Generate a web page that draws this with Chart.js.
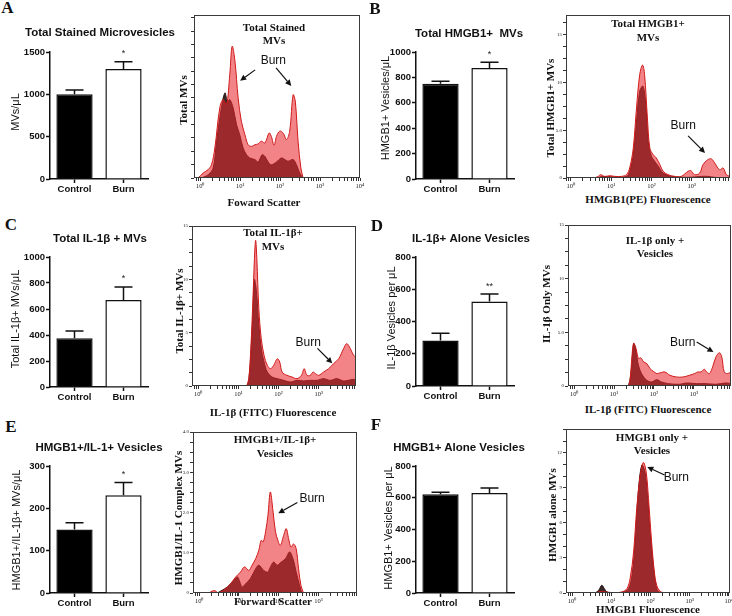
<!DOCTYPE html>
<html>
<head>
<meta charset="utf-8">
<script src="https://cdn.jsdelivr.net/npm/chart.js@4.4.1/dist/chart.umd.min.js"></script>
<style>
  html, body { margin: 0; padding: 0; overflow: hidden; background: #fff; }
  body { position: relative; width: 732px; height: 616px; }
  canvas { position: absolute; }
  .t { position: absolute; white-space: nowrap; transform: translate(-50%, -50%); color: #111; line-height: 1; text-align: center; }
  .rot { transform: translate(-50%, -50%) rotate(-90deg); }
  .letter { font: bold 17px "Liberation Serif", "Times New Roman", serif; }
  .btitle { font: bold 11.5px "Liberation Sans", Arial, sans-serif; }
  .bylab { font: 11px "Liberation Sans", Arial, sans-serif; }
  .serif { font: bold 11px "Liberation Serif", "Times New Roman", serif; }
  .serif2 { font: bold 11px/13.5px "Liberation Serif", "Times New Roman", serif; }
</style>
</head>
<body>
<script>
const SANS = '"Liberation Sans", Arial, sans-serif';
const SERIF = '"Liberation Serif", "Times New Roman", serif';

const groups = ['Control', 'Burn'];

// bar values (mean, SEM, significance mark)
const meanA = [1000, 1300], semA = [52, 85], sigA = ['', '*'];
const meanB = [750, 875], semB = [20, 45], sigB = ['', '*'];
const meanC = [375, 670], semC = [55, 100], sigC = ['', '*'];
const meanD = [282, 524], semD = [45, 46], sigD = ['', '**'];
const meanE = [150, 231], semE = [16, 30], sigE = ['', '*'];
const meanF = [622, 630], semF = [12, 32], sigF = ['', ''];

// histograms: x in decades (log10 of channel), y = counts
const histA_burnX = [-0.05,0.075,0.2,0.283,0.367,0.49,0.575,0.66,0.74,0.8,0.87,0.95,1.03,1.12,1.2,1.28,1.37,1.45,1.53,1.62,1.725,1.78,1.85,1.91,1.99,2.075,2.16,2.24,2.325,2.38,2.45,2.52,2.575];
const histA_burnY = [0,0.125,0.21,0.33,0.75,1.75,1.96,1.83,2.58,3.29,2.92,2.0,1.42,1.08,0.83,0.79,0.83,0.85,0.92,0.875,1.125,1.04,0.816,1.04,1.17,1.125,0.96,1.17,2.08,1.92,0.92,0.25,0];
const histA_ctrlX = [0.03,0.2,0.325,0.41,0.53,0.62,0.68,0.74,0.825,0.91,0.99,1.075,1.16,1.24,1.37,1.45,1.55,1.62,1.7,1.78,1.91,2.03,2.12,2.2,2.325,2.41,2.49,2.575];
const histA_ctrlY = [0,0.083,0.25,0.92,1.75,2.125,1.92,1.96,1.75,1.33,1.08,0.75,0.58,0.5,0.46,0.4,0.58,0.54,0.4,0.33,0.4,0.5,0.46,0.42,0.46,0.33,0.125,0];
const histA_yTicks = [0, 1, 2, 3, 4];
const histA_yText = ['', '', '', '', ''];

const histB_burnX = [0.595,0.68,0.74,0.84,0.97,1.09,1.26,1.38,1.46,1.55,1.63,1.71,1.78,1.83,1.9,1.96,2.04,2.12,2.21,2.29,2.41,2.58,2.74,2.91,2.98,3.07,3.2,3.28,3.4,3.49,3.57,3.69,3.78,3.86,3.94];
const histB_burnY = [0,0.17,0.35,0.17,0.24,0.17,0.17,0.35,1.05,3.15,7.34,10.84,11.82,10.84,6.29,3.15,2.45,2.1,1.4,0.7,0.35,0.17,0.17,0.7,0.77,0.35,0.52,1.4,1.92,2.0,1.57,0.87,1.05,0.35,0.17];
const histB_ctrlX = [0.68,0.76,1.09,1.38,1.46,1.55,1.63,1.71,1.79,1.86,1.92,2.0,2.08,2.17,2.29,2.5,2.91,3.24,3.4,3.57,3.9];
const histB_ctrlY = [0,0.17,0.1,0.17,0.7,2.45,5.94,9.09,9.62,7.69,3.85,2.27,1.75,1.22,0.52,0.17,0.07,0.17,0.17,0.07,0];
const histB_yTicks = [0, 5, 10, 15];
const histB_yText = ['0', '5.0', '10', '15'];

const histC_burnX = [1.21,1.26,1.31,1.36,1.40,1.43,1.46,1.51,1.57,1.64,1.72,1.80,1.88,1.97,2.03,2.09,2.21,2.34,2.46,2.57,2.64,2.71,2.79,2.86,2.92,3.0,3.12,3.25,3.37,3.50,3.62,3.70,3.79,3.87,3.93];
const histC_burnY = [0,0.69,3.5,7.875,11.94,13.66,11.94,7.25,4.44,2.875,1.94,1.625,1.94,2.56,2.25,1.31,1.0,0.84,0.69,1.0,1.625,1.0,1.0,1.31,1.16,1.0,1.31,1.625,2.09,2.56,3.5,3.97,3.5,2.875,2.72];
const histC_ctrlX = [1.21,1.26,1.31,1.36,1.40,1.45,1.51,1.57,1.64,1.72,1.84,1.97,2.13,2.30,2.46,2.63,2.79,2.96,3.12,3.29,3.45,3.62,3.74,3.87,3.93];
const histC_ctrlY = [0,0.53,2.94,6.69,9.97,8.875,5.72,3.5,2.25,1.31,0.84,0.69,0.53,0.375,0.53,0.47,0.53,0.53,0.69,0.53,0.69,0.47,0.53,0.625,0.53];
const histC_yTicks = [0, 5, 10, 15];
const histC_yText = ['0', '5', '10', '15'];

const histD_burnX = [1.36,1.40,1.45,1.49,1.55,1.61,1.67,1.74,1.82,1.90,1.98,2.07,2.15,2.27,2.40,2.56,2.73,2.89,3.02,3.10,3.18,3.26,3.32,3.39,3.47,3.55,3.64,3.70,3.76,3.84,3.93];
const histD_burnY = [0,0.53,2.875,3.97,3.5,2.56,2.625,2.25,2.09,1.625,1.375,1.16,1.22,1.31,1.0,0.84,0.84,1.0,1.16,1.31,1.31,1.56,1.31,1.16,1.78,2.69,3.1,2.69,1.31,1.16,1.31];
const histD_ctrlX = [1.36,1.42,1.49,1.53,1.59,1.65,1.74,1.82,1.94,2.07,2.19,2.36,2.64,2.81,3.06,3.31,3.55,3.80,3.93];
const histD_ctrlY = [0,1.0,3.97,3.66,2.25,1.47,0.84,0.53,0.375,0.59,0.375,0.22,0.16,0.28,0.22,0.22,0.16,0.28,0.22];
const histD_yTicks = [0, 5, 10, 15];
const histD_yText = ['0', '5.0', '10', '15'];

const histE_burnX = [0.25,0.33,0.42,0.46,0.54,0.67,0.79,0.92,1.04,1.14,1.25,1.33,1.42,1.5,1.56,1.61,1.67,1.73,1.79,1.86,1.92,1.98,2.04,2.125,2.19,2.25,2.31,2.375,2.44,2.5,2.56,2.625];
const histE_burnY = [0,0.05,0.05,0,0.025,0.11,0.23,0.4,0.52,0.65,0.56,0.69,0.85,1.06,1.31,1.27,1.52,1.93,2.51,2.01,1.52,1.31,1.18,1.43,1.6,1.35,1.14,1.22,1.10,0.6,0.19,0];
const histE_ctrlX = [0.46,0.58,0.71,0.83,0.96,1.025,1.08,1.17,1.29,1.42,1.5,1.625,1.725,1.79,1.875,1.96,2.04,2.17,2.275,2.36,2.44,2.525,2.58];
const histE_ctrlY = [0,0.07,0.15,0.27,0.4,0.27,0.15,0.23,0.36,0.6,0.69,0.56,0.52,0.64,0.77,0.69,0.75,0.85,1.02,0.85,0.52,0.19,0];
const histE_yTicks = [0, 1, 2, 3, 4];
const histE_yText = ['0', '1.0', '2.0', '3.0', '4.0'];

const histF_burnX = [0.59,0.68,0.76,0.85,1.10,1.27,1.40,1.48,1.57,1.65,1.74,1.82,1.89,1.95,2.03,2.10,2.16,2.25,2.37];
const histF_burnY = [0,0.09,0.14,0.09,0.03,0.09,0.37,1.23,3.51,7.23,10.09,11.17,10.37,8.09,4.37,1.8,0.66,0.14,0];
const histF_ctrlX = [0.59,0.68,0.76,0.85,0.93,1.10,1.31,1.44,1.53,1.61,1.69,1.78,1.86,1.93,1.99,2.08,2.14,2.20,2.33];
const histF_ctrlY = [0,0.23,0.66,0.23,0.03,0,0.09,0.37,1.51,4.37,8.66,10.94,10.37,8.09,5.23,2.09,0.66,0.14,0];
const histF_yTicks = [0, 3, 6, 9, 12];
const histF_yText = ['0', '3', '6', '9', '12'];

const SUP = ['\u2070', '\u00b9', '\u00b2', '\u00b3', '\u2074'];

function makeCanvas(area, pad) {
  const c = document.createElement('canvas');
  const w = area[2] - area[0] + pad.l + pad.r;
  const h = area[3] - area[1] + pad.t + pad.b;
  c.width = w; c.height = h;
  c.style.width = w + 'px'; c.style.height = h + 'px';
  c.style.left = (area[0] - pad.l) + 'px';
  c.style.top = (area[1] - pad.t) + 'px';
  document.body.appendChild(c);
  return c;
}

function label(text, x, y, cls) {
  const d = document.createElement('div');
  d.className = 't ' + cls;
  d.innerHTML = text;
  d.style.left = x + 'px';
  d.style.top = y + 'px';
  document.body.appendChild(d);
}

// error bars + stars on top of the bars
const errPlugin = {
  id: 'errBars',
  afterDatasetsDraw(chart, args, opts) {
    const { ctx, scales: { y } } = chart;
    const vals = chart.data.datasets[0].data;
    ctx.save();
    ctx.strokeStyle = '#111';
    ctx.fillStyle = '#222';
    ctx.lineWidth = 1.5;
    ctx.font = '9px ' + SANS;
    ctx.textAlign = 'center';
    ctx.textBaseline = 'middle';
    chart.getDatasetMeta(0).data.forEach((bar, i) => {
      const base = y.getPixelForValue(vals[i]);
      const top = y.getPixelForValue(vals[i] + opts.sem[i]);
      ctx.beginPath();
      ctx.moveTo(bar.x, base);
      ctx.lineTo(bar.x, top);
      ctx.moveTo(bar.x - 9, top);
      ctx.lineTo(bar.x + 9, top);
      ctx.stroke();
      if (opts.sig[i]) ctx.fillText(opts.sig[i], bar.x, top - 8);
    });
    ctx.restore();
  }
};

function barChart(area, means, sems, sig, yMax, yStep) {
  const pad = { l: 50, t: 16, r: 8, b: 22 };
  const cv = makeCanvas(area, pad);
  new Chart(cv, {
    type: 'bar',
    data: {
      labels: groups,
      datasets: [{
        data: means,
        backgroundColor: ['#000', '#fff'],
        borderColor: '#111',
        borderWidth: 1.5,
        barPercentage: 0.74,
        categoryPercentage: 1
      }]
    },
    options: {
      responsive: false,
      animation: false,
      layout: { padding: { top: pad.t, right: pad.r, left: 0, bottom: 0 } },
      plugins: { legend: { display: false }, tooltip: { enabled: false }, errBars: { sem: sems, sig: sig } },
      scales: {
        x: {
          grid: { offset: false, drawOnChartArea: false, tickLength: 4, tickColor: '#111', tickWidth: 1.5 },
          border: { color: '#111', width: 1.5 },
          ticks: { font: { family: SANS, size: 9.5, weight: 'bold' }, color: '#111', padding: 1 },
          afterFit: s => { s.height = pad.b; }
        },
        y: {
          min: 0, max: yMax,
          grid: { drawOnChartArea: false, tickLength: 4, tickColor: '#111', tickWidth: 1.5 },
          border: { color: '#111', width: 1.5 },
          ticks: { stepSize: yStep, font: { family: SANS, size: 9.5, weight: 'bold' }, color: '#111', padding: 1,
                   callback: v => String(v) },
          afterFit: s => { s.width = pad.l; }
        }
      }
    },
    plugins: [errPlugin]
  });
}

function drawArrow(ctx, x1, y1, x2, y2) {
  const ang = Math.atan2(y2 - y1, x2 - x1);
  const hl = 6, hw = 3;
  const bx = x2 - hl * Math.cos(ang), by = y2 - hl * Math.sin(ang);
  ctx.beginPath();
  ctx.moveTo(x1, y1);
  ctx.lineTo(bx, by);
  ctx.stroke();
  ctx.beginPath();
  ctx.moveTo(x2, y2);
  ctx.lineTo(bx + hw * Math.sin(ang), by - hw * Math.cos(ang));
  ctx.lineTo(bx - hw * Math.sin(ang), by + hw * Math.cos(ang));
  ctx.closePath();
  ctx.fill();
}

// frame + "Burn" arrows
const histPlugin = {
  id: 'histDeco',
  afterDatasetsDraw(chart, args, opts) {
    const { ctx, chartArea: a, scales: { x, y } } = chart;
    ctx.save();
    ctx.strokeStyle = '#3a3a3a';
    ctx.lineWidth = 1;
    ctx.strokeRect(a.left + 0.5, a.top + 0.5, a.right - a.left - 1, a.bottom - a.top - 1);
    const n = opts.note;
    if (n) {
      const px = v => x.getPixelForValue(Math.pow(10, v));
      ctx.fillStyle = '#111';
      ctx.strokeStyle = '#111';
      ctx.lineWidth = 1.2;
      ctx.font = '12px ' + SANS;
      ctx.textAlign = 'center';
      ctx.textBaseline = 'middle';
      ctx.fillText('Burn', px(n.text[0]), y.getPixelForValue(n.text[1]));
      n.arrows.forEach(ar => drawArrow(ctx, px(ar[0]), y.getPixelForValue(ar[1]), px(ar[2]), y.getPixelForValue(ar[3])));
    }
    ctx.restore();
  }
};

function logTicks(lo, hi) {
  const out = [];
  for (let d = -1; d <= 4; d++) {
    for (let m = 1; m <= 9; m++) {
      const v = m * Math.pow(10, d);
      const e = Math.log10(v);
      if (e >= lo - 1e-9 && e <= hi + 1e-9) out.push({ value: v });
    }
  }
  return out;
}

function hist(area, xr, yMax, yTicks, yText, yMinor, bX, bY, cX, cY, note) {
  const pad = { l: 24, t: 6, r: 8, b: 14 };
  const cv = makeCanvas(area, pad);
  const pts = (xs, ys) => xs.map((v, i) => ({ x: Math.pow(10, v), y: ys[i] }));
  new Chart(cv, {
    type: 'line',
    data: {
      datasets: [
        { data: pts(bX, bY), fill: 'origin', backgroundColor: 'rgba(232,42,46,0.58)', borderColor: '#cf1b1b',
          borderWidth: 1, pointRadius: 0, tension: 0.35, order: 0 },
        { data: pts(cX, cY), fill: 'origin', backgroundColor: 'rgb(52,42,42)', borderColor: '#2a0c0c',
          borderWidth: 1, pointRadius: 0, tension: 0.35, order: 1 }
      ]
    },
    options: {
      responsive: false,
      animation: false,
      layout: { padding: { top: pad.t, right: pad.r, left: 0, bottom: 0 } },
      plugins: { legend: { display: false }, tooltip: { enabled: false }, histDeco: { note: note } },
      scales: {
        x: {
          type: 'logarithmic',
          min: Math.pow(10, xr[0]), max: Math.pow(10, xr[1]),
          afterBuildTicks: s => { s.ticks = logTicks(xr[0], xr[1]); },
          grid: { drawOnChartArea: false, tickLength: 3, tickColor: '#333' },
          border: { display: false },
          ticks: {
            autoSkip: false, maxRotation: 0, padding: 1, color: '#222',
            font: { family: SERIF, size: 6.5 },
            callback: v => {
              const e = Math.log10(v);
              return Math.abs(e - Math.round(e)) < 1e-6 ? '10' + SUP[Math.round(e)] : '';
            }
          },
          afterFit: s => { s.height = pad.b; }
        },
        y: {
          min: 0, max: yMax,
          afterBuildTicks: s => {
            const t = [];
            for (let k = 0; k * yMinor <= yMax + 1e-9; k++) t.push({ value: Math.round(k * yMinor * 1000) / 1000 });
            s.ticks = t;
          },
          grid: { drawOnChartArea: false, tickLength: 3, tickColor: '#333' },
          border: { display: false },
          ticks: {
            autoSkip: false, padding: 1, color: '#222',
            font: { family: SERIF, size: 5 },
            callback: v => {
              const j = yTicks.findIndex(t => Math.abs(t - v) < 1e-3);
              return j >= 0 ? yText[j] : '';
            }
          },
          afterFit: s => { s.width = pad.l; }
        }
      }
    },
    plugins: [histPlugin]
  });
}

// bar charts
barChart([50, 52, 148, 179], meanA, semA, sigA, 1500, 500);
barChart([416, 52, 514, 179], meanB, semB, sigB, 1000, 200);
barChart([50, 257, 148, 387], meanC, semC, sigC, 1000, 200);
barChart([416, 257, 514, 386], meanD, semD, sigD, 800, 200);
barChart([50, 466, 148, 593], meanE, semE, sigE, 300, 100);
barChart([416, 466, 514, 593], meanF, semF, sigF, 800, 200);

// histograms
hist([194, 15, 360, 178], [-0.15, 4.0], 4.07, histA_yTicks, histA_yText, 1 / 3,
  histA_burnX, histA_burnY, histA_ctrlX, histA_ctrlY,
  { text: [1.83, 2.93], arrows: [[1.375, 2.7, 1.0, 2.43], [1.9, 2.75, 2.28, 2.3]] });
hist([566, 15, 730, 178], [-0.12, 3.95], 17.06, histB_yTicks, histB_yText, 1.25,
  histB_burnX, histB_burnY, histB_ctrlX, histB_ctrlY,
  { text: [2.79, 5.46], arrows: [[2.91, 4.41, 3.33, 2.62]] });
hist([192, 226, 356, 386], [-0.13, 3.93], 15, histC_yTicks, histC_yText, 1.25,
  histC_burnX, histC_burnY, histC_ctrlX, histC_ctrlY,
  { text: [2.74, 4.1], arrows: [[2.97, 3.53, 3.34, 2.13]] });
hist([568, 225, 731, 386], [-0.13, 3.93], 15, histD_yTicks, histD_yText, 1.25,
  histD_burnX, histD_burnY, histD_ctrlX, histD_ctrlY,
  { text: [2.72, 4.0], arrows: [[3.07, 4.1, 3.49, 3.16]] });
hist([193, 432, 357, 593], [-0.13, 3.97], 4, histE_yTicks, histE_yText, 0.25,
  histE_burnX, histE_burnY, histE_ctrlX, histE_ctrlY,
  { text: [2.84, 2.35], arrows: [[2.47, 2.25, 1.99, 1.98]] });
hist([566, 429, 730, 593], [-0.13, 4.03], 14.03, histF_yTicks, histF_yText, 1,
  histF_burnX, histF_burnY, histF_ctrlX, histF_ctrlY,
  { text: [2.66, 9.83], arrows: [[2.36, 10.09, 1.92, 10.78]] });

// panel letters
label('A', 7.5, 8, 'letter');
label('B', 375, 9, 'letter');
label('C', 11, 225, 'letter');
label('D', 377, 226, 'letter');
label('E', 11, 427, 'letter');
label('F', 376, 425, 'letter');

// bar titles
label('Total Stained Microvesicles', 100, 32, 'btitle');
label('Total HMGB1+&nbsp; MVs', 469, 33, 'btitle');
label('Total IL-1\u03b2 + MVs', 100, 238, 'btitle');
label('IL-1\u03b2+ Alone Vesicles', 471, 238, 'btitle');
label('HMGB1+/IL-1+ Vesicles', 99, 447, 'btitle');
label('HMGB1+ Alone Vesicles', 459, 447, 'btitle');

// bar y titles
label('MVs/\u03bcL', 15, 112, 'bylab rot');
label('HMGB1+ Vesicles/\u03bcL', 385, 108, 'bylab rot');
label('Total IL-1\u03b2+ MVs/\u03bcL', 15, 319, 'bylab rot');
label('IL-1\u03b2 Vesicles per \u03bcL', 391, 318, 'bylab rot');
label('HMGB1+/IL-1\u03b2+ MVs/\u03bcL', 16, 530, 'bylab rot');
label('HMGB1+ Vesicles per \u03bcL', 388, 528, 'bylab rot');

// histogram inner titles
label('Total Stained<br>MVs', 274, 33.5, 'serif2');
label('Total HMGB1+<br>MVs', 648, 30, 'serif2');
label('Total IL-1\u03b2+<br>MVs', 273, 239, 'serif2');
label('IL-1\u03b2 only +<br>Vesicles', 655, 246.5, 'serif2');
label('HMGB1+/IL-1\u03b2+<br>Vesicles', 275, 446, 'serif2');
label('HMGB1 only +<br>Vesicles', 652, 443.5, 'serif2');

// histogram axis titles
label('Foward Scatter', 264, 202, 'serif');
label('HMGB1(PE) Fluorescence', 648, 199, 'serif');
label('IL-1\u03b2 (FITC) Fluorescence', 273, 412, 'serif');
label('IL-1\u03b2 (FITC) Fluorescence', 648, 409, 'serif');
label('Forward Scatter', 273, 601, 'serif');
label('HMGB1 Fluorescence', 648, 609, 'serif');

label('Total MVs', 183, 100, 'serif rot');
label('Total HMGB1+ MVs', 550, 108, 'serif rot');
label('Total IL-1\u03b2+ MVs', 179, 311, 'serif rot');
label('IL-1\u03b2 Only MVs', 546, 304, 'serif rot');
label('HMGB1/IL-1 Complex MVs', 177.5, 518, 'serif rot');
label('HMGB1 alone MVs', 552, 515, 'serif rot');
</script>
</body>
</html>
